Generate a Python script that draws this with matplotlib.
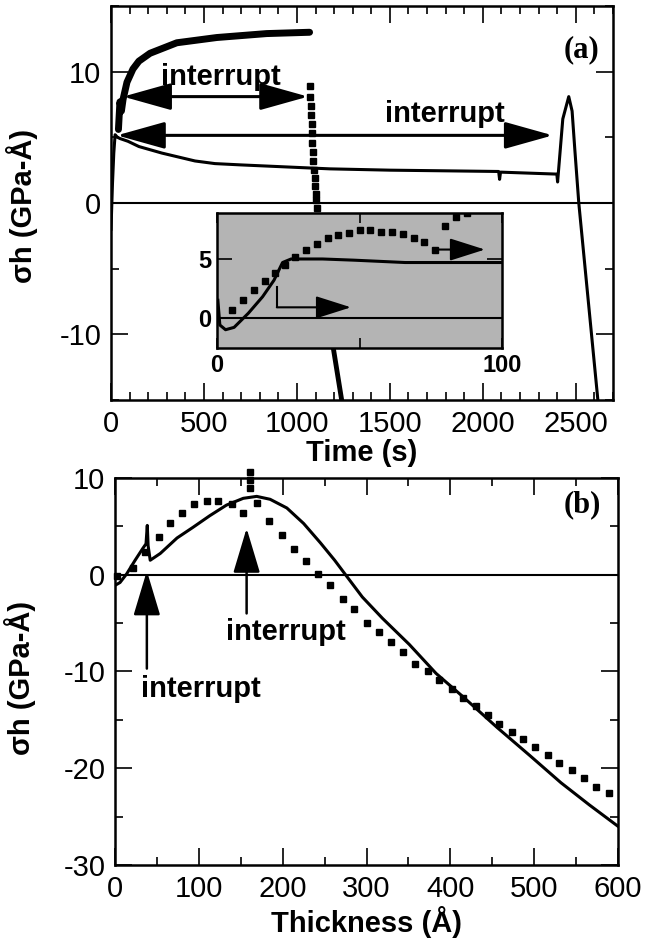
import matplotlib
matplotlib.use("Agg")
import matplotlib.pyplot as plt
from matplotlib.ticker import MultipleLocator, FixedLocator

plt.rcParams['font.family'] = ['Liberation Sans', 'DejaVu Sans']
plt.rcParams['axes.unicode_minus'] = False

# panel (a): stress-thickness vs time
a_thick_t = [40, 48, 56, 65, 86, 118, 150, 210, 354, 569, 837, 1068]
a_thick_s = [5.6, 7.7, 7.0, 7.9, 9.2, 10.2, 10.8, 11.4, 12.2, 12.6, 12.9, 13.0]

a_thin_t = [0, 8, 15, 22, 35, 50, 91, 150, 274, 452, 559, 700, 1016, 1177, 1500, 1800,
            2085, 2090, 2095, 2398, 2402, 2430, 2462, 2480, 2495, 2516, 2620]
a_thin_s = [-2.0, 1.5, 3.8, 5.2, 5.0, 4.9, 4.7, 4.3, 3.8, 3.2, 3.0, 2.9, 2.7, 2.6, 2.5, 2.45,
            2.4, 1.8, 2.35, 2.2, 1.6, 6.4, 8.1, 7.0, 4.0, 0.0, -15.2]

a_dot_t = [1068, 1072, 1075, 1077, 1079, 1081, 1083, 1086, 1089, 1092, 1095, 1098, 1101, 1104, 1107, 1110]
a_dot_s = [8.9, 8.1, 7.4, 6.7, 6.0, 5.3, 4.6, 3.9, 3.2, 2.5, 1.9, 1.3, 0.7, 0.2, -0.4, -1.0]
a_drop_t = [1194, 1244]
a_drop_s = [-10.9, -15.3]

# inset of (a): first 100 s
in_solid_t = [0.3, 1, 3, 6, 11, 16, 20, 23, 26, 37, 48, 66, 100]
in_solid_s = [1.5, -0.6, -1.0, -0.8, 0.4, 1.8, 3.2, 4.7, 5.0, 5.0, 4.9, 4.7, 4.7]
in_dot_t = [5.3, 9.1, 13, 16.8, 20.4, 23.9, 27.4, 31.4, 35, 38.9, 42.4, 46.3, 50.2, 53.7,
            57.5, 61.4, 65.3, 69.1, 72.6, 76.5, 80, 84, 87.7]
in_dot_s = [0.7, 1.5, 2.4, 3.1, 3.8, 4.5, 5.2, 5.8, 6.3, 6.8, 7.0, 7.2, 7.5, 7.5,
            7.3, 7.3, 7.1, 6.8, 6.4, 5.8, 7.8, 8.6, 8.9]

# panel (b): stress-thickness vs thickness
b_solid_h = [0, 6, 14, 24, 33, 37, 38.5, 39.5, 42, 54, 74, 93, 113, 133, 153, 169, 185, 205,
             225, 245, 262, 275, 295, 319, 351, 383, 415, 456, 495, 532, 566, 600]
b_solid_s = [-1.1, -0.8, 0.1, 1.5, 2.7, 3.2, 5.1, 3.0, 1.5, 2.2, 3.8, 4.9, 6.1, 7.2, 7.9, 8.1, 7.8, 6.9,
             5.3, 3.3, 1.5, 0.0, -2.3, -4.5, -7.2, -10.2, -12.6, -15.8, -18.7, -21.5, -23.8, -26.0]
b_dot_h = [2, 21, 36, 52, 66, 80, 94, 110, 123, 139, 153, 161, 161, 161, 169, 184, 199, 213, 228,
           242, 257, 272, 285, 300, 315, 329, 343, 358, 373, 387, 402, 415, 431, 445, 458, 473,
           487, 501, 516, 530, 545, 559, 574, 589]
b_dot_s = [-0.1, 0.7, 2.4, 3.9, 5.4, 6.4, 7.3, 7.6, 7.6, 7.3, 6.4, 9.0, 9.8, 10.6, 7.4, 5.6, 4.1, 2.7, 1.4,
           0.1, -1.1, -2.5, -3.5, -5.0, -5.9, -7.0, -8.0, -9.2, -10.0, -10.9, -11.8, -12.7, -13.6, -14.5, -15.4, -16.3,
           -17.0, -17.8, -18.6, -19.5, -20.2, -21.0, -21.9, -22.6]

TICK_FS = 21
LAB_FS = 21


def style_axes(ax, xmaj, xmin, ymaj, ymin):
    ax.xaxis.set_major_locator(MultipleLocator(xmaj))
    ax.xaxis.set_minor_locator(MultipleLocator(xmin))
    ax.yaxis.set_major_locator(MultipleLocator(ymaj))
    ax.yaxis.set_minor_locator(MultipleLocator(ymin))
    ax.tick_params(which='both', direction='in', top=True, right=True, width=1.2,
                   labelsize=TICK_FS)
    ax.tick_params(which='major', length=12, pad=7)
    ax.tick_params(which='minor', length=6)
    for s in ax.spines.values():
        s.set_linewidth(1.8)


def arrow(ax, tip, tail, style, hl, hw, lw=2.2, ms=20):
    ax.annotate('', xy=tip, xytext=tail,
                arrowprops=dict(arrowstyle='%s,head_length=%s,head_width=%s' % (style, hl, hw),
                                lw=lw, color='k', mutation_scale=ms, shrinkA=0, shrinkB=0))


fig = plt.figure(figsize=(6.5, 9.47), dpi=100)

# ---- panel (a)
ax1 = fig.add_axes([111 / 650, 1 - 400 / 947, 502 / 650, 394 / 947])
ax1.axhline(0, color='k', lw=1.5)
ax1.plot(a_thin_t, a_thin_s, color='k', lw=2.2)
ax1.plot(a_thick_t, a_thick_s, color='k', lw=5, solid_capstyle='round')
ax1.plot(a_dot_t, a_dot_s, 's', color='k', ms=3.8)
ax1.plot(a_drop_t, a_drop_s, color='k', lw=3.5)
ax1.set_xlim(0, 2700)
ax1.set_ylim(-15, 15)
style_axes(ax1, 500, 100, 10, 5)
ax1.set_xlabel('Time (s)', fontsize=LAB_FS, fontweight='bold')
ax1.set_ylabel('σh (GPa-Å)', fontsize=LAB_FS, fontweight='bold')
ax1.xaxis.set_label_coords(0.5, -0.098)
ax1.yaxis.set_label_coords(-0.146, 0.492)

arrow(ax1, (1060, 8.1), (65, 8.1), '<|-|>', 1.5, 0.42)
arrow(ax1, (2376, 5.15), (32, 5.15), '<|-|>', 1.5, 0.42)
ax1.text(591, 9.6, 'interrupt', fontsize=LAB_FS, fontweight='bold', ha='center', va='center')
ax1.text(1796, 6.8, 'interrupt', fontsize=LAB_FS, fontweight='bold', ha='center', va='center')
ax1.text(0.938, 0.888, '(a)', transform=ax1.transAxes, fontsize=22, fontweight='bold',
         family='Liberation Serif', ha='center', va='center')

# ---- inset
axi = fig.add_axes([217 / 650, 1 - 348 / 947, 285 / 650, 135 / 947])
axi.set_facecolor('#b4b4b4')
axi.axhline(0, color='k', lw=1.5)
axi.plot(in_solid_t, in_solid_s, color='k', lw=2.2)
axi.plot(in_dot_t, in_dot_s, 's', color='k', ms=4)
axi.plot([21, 21], [2.6, 0.9], color='k', lw=1.5)
arrow(axi, (47, 0.9), (21, 0.9), '-|>', 1.1, 0.35, lw=1.5)
arrow(axi, (94, 5.8), (76.5, 5.8), '-|>', 1.1, 0.35, lw=1.5)
axi.set_xlim(0, 100)
axi.set_ylim(-2.55, 8.9)
axi.xaxis.set_major_locator(FixedLocator([0, 50, 100]))
axi.set_xticklabels(['0', '', '100'])
axi.yaxis.set_major_locator(FixedLocator([0, 5]))
axi.tick_params(direction='in', top=True, right=True, width=1.2, labelsize=17, pad=4)
axi.tick_params(axis='y', length=11)
axi.tick_params(axis='x', length=7)
for lab in axi.get_xticklabels() + axi.get_yticklabels():
    lab.set_fontweight('bold')
for s in axi.spines.values():
    s.set_linewidth(1.8)

# ---- panel (b)
ax2 = fig.add_axes([115 / 650, 1 - 865 / 947, 503 / 650, 387 / 947])
ax2.axhline(0, color='k', lw=1.5)
ax2.plot(b_solid_h, b_solid_s, color='k', lw=2.2)
ax2.plot(b_dot_h, b_dot_s, 's', color='k', ms=3.8, clip_on=False)
ax2.set_xlim(0, 600)
ax2.set_ylim(-30, 10)
style_axes(ax2, 100, 50, 10, 5)
ax2.set_xlabel('Thickness (Å)', fontsize=LAB_FS, fontweight='bold')
ax2.set_ylabel('σh (GPa-Å)', fontsize=LAB_FS, fontweight='bold')
ax2.xaxis.set_label_coords(0.5, -0.105)
ax2.yaxis.set_label_coords(-0.158, 0.483)

arrow(ax2, (38, 0.4), (38, -9.7), '-|>', 1.4, 0.42, lw=1.8)
arrow(ax2, (157, 4.8), (157, -4.0), '-|>', 1.4, 0.42, lw=1.8)
ax2.text(103, -11.8, 'interrupt', fontsize=LAB_FS, fontweight='bold', ha='center', va='center')
ax2.text(204, -5.9, 'interrupt', fontsize=LAB_FS, fontweight='bold', ha='center', va='center')
ax2.text(0.930, 0.930, '(b)', transform=ax2.transAxes, fontsize=22, fontweight='bold',
         family='Liberation Serif', ha='center', va='center')

fig.savefig('out.png', dpi=100)
